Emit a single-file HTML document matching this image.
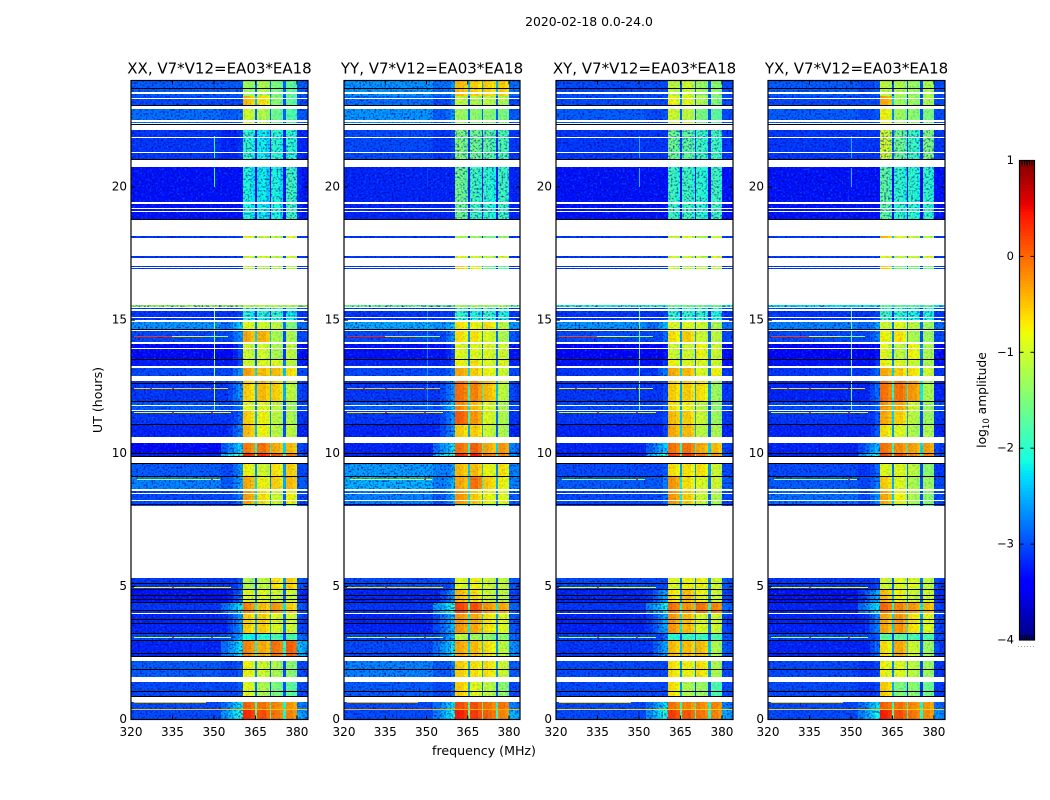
<!DOCTYPE html>
<html lang="en">
<head>
<meta charset="utf-8">
<title>2020-02-18 dynamic spectra</title>
<style>
html,body{margin:0;padding:0;background:#fff;}
svg{display:block;}
text{font-family:"DejaVu Sans","Liberation Sans",sans-serif;fill:#000;}
</style>
</head>
<body>
<svg id="figure" xmlns="http://www.w3.org/2000/svg" width="1050" height="800" viewBox="0 0 1050 800">
<defs>
<filter id="speckle-light" x="0" y="0" width="100%" height="100%" color-interpolation-filters="sRGB">
<feTurbulence type="fractalNoise" baseFrequency="0.48" numOctaves="1" seed="4"/>
<feColorMatrix type="matrix" values="0 0 0 0 0  0 0 0 0 0.42  0 0 0 0 1  2.6 0 0 0 -1.35"/>
</filter>
<filter id="speckle-dark" x="0" y="0" width="100%" height="100%" color-interpolation-filters="sRGB">
<feTurbulence type="fractalNoise" baseFrequency="0.52" numOctaves="1" seed="11"/>
<feColorMatrix type="matrix" values="0 0 0 0 0  0 0 0 0 0  0 0 0 0 0.6  2.6 0 0 0 -1.25"/>
</filter>
</defs>
<text x="589" y="26" font-size="12.4" text-anchor="middle">2020-02-18 0.0-24.0</text>
<text x="484" y="755" font-size="12.6" text-anchor="middle">frequency (MHz)</text>
<text x="102" y="400" font-size="12.6" text-anchor="middle" transform="rotate(-90 102 400)">UT (hours)</text>
<text x="986" y="400" font-size="12.3" text-anchor="middle" transform="rotate(-90 986 400)">log<tspan font-size="8.5" dy="3">10</tspan><tspan dy="-3"> amplitude</tspan></text>
</svg>
<script>
// ---- Data -----------------------------------------------------------------------
const panelTitles = ["XX, V7*V12=EA03*EA18","YY, V7*V12=EA03*EA18","XY, V7*V12=EA03*EA18","YX, V7*V12=EA03*EA18"];
const freqTicks = [320,335,350,365,380];
const utTicks = [0,5,10,15,20];
const colorTicks = [1,0,-1,-2,-3,-4];
const colorTickLabels = ["1","0","\u22121","\u22122","\u22123","\u22124"];

// Frequency channel edges (MHz)
const channelEdges = [320,335,350,352.5,355,357,358.8,360.5,362,363.5,365,365.7,367.2,368.7,370.2,370.7,372.2,373.7,375.1,375.9,377.3,378.7,380,382,384];
// Which column of a row table feeds each channel: 0 background, 1 band skirt, 2-5 sub-bands, 6 upper tail
const channelColumn = [0,0,0,1,1,1,1,2,2,2,2,3,3,3,3,4,4,4,4,5,5,5,6,6];
// Bandpass shape of each channel in dex
const channelShape = [0,0,0,-0.6,-0.4,-0.2,0,0.06,0.02,-0.1,-1.9,0.02,0.06,-0.1,-1.9,0.06,0,-0.12,-1.9,0.04,0.05,-0.06,0,-0.08];

// Top of each time row (UT hours); the last row ends at 0
const rowTops = [24,23.4,23,22.32,20.75,18.17,17.42,17.04,15.56,15.51,14.93,14.63,14.14,13.55,13.24,12.71,11.96,11.59,11.1,10.38,10.01,9.64,9.14,8.62,8.09,5.31,4.9,4.41,4,3.25,2.98,2.2,1.41,0.66,0.39];

// log10 amplitude per row: background, skirt, sub-band 1-4, tail
const xxRows = [
[-2.9,-2.9,-1.3,-1.2,-1.5,-1.7,-2.9],[-3,-3,-0.5,-0.7,-1.4,-1.7,-3],[-2.8,-2.8,-1,-1.2,-1.6,-1.8,-2.9],[-3.1,-3.1,-2,-2.2,-2,-2,-3.2],[-3.3,-3.3,-2.1,-2.2,-2.1,-1.9,-3.2],
[-3.1,-3.1,-0.9,-1,-1.1,-0.9,-3.1],[-3.1,-3.1,-1,-1,-1.1,-1,-3.1],[-3.1,-3.1,-1.1,-1.2,-1.2,-1.2,-3.1],[-1.3,-1.3,-1.2,-1.2,-1.2,-1.2,-1.3],[-3.1,-3,-2.1,-2.1,-2,-2.2,-3.1],
[-2.6,-2.3,-0.9,-1,-1.1,-1.5,-2.8],[-3,-2.6,-0.4,-0.45,-1.2,-1.2,-3],[-3.35,-3,-1,-1,-1.2,-1.1,-3.3],[-3.25,-3,-1,-0.9,-0.9,-1.1,-3.2],[-3,-2.6,-0.35,-0.5,-0.5,-0.7,-3],
[-3.1,-2.6,-0.6,-0.5,-0.6,-1.1,-3],[-2.9,-2.7,-0.9,-0.9,-1.1,-1.3,-3],[-3.1,-2.8,-0.6,-0.8,-1.1,-1.2,-3.1],[-3.2,-2.7,-0.5,-0.8,-1.1,-1.1,-3.2],[-3.35,-2.3,-0.15,-0.1,-0.4,-0.5,-3],
[-3.2,-1.7,0.3,0.3,0.1,-0.1,-2.9],[-2.9,-2.6,-0.8,-1,-0.7,-0.6,-3],[-2.7,-2.5,-0.4,-0.8,-0.6,-0.5,-2.9],[-3,-2.7,-0.35,-0.7,-1,-0.8,-3],[-2.9,-2.9,-1.5,-1.5,-1.6,-1.6,-3],
[-3.1,-2.9,-1.2,-1.1,-0.7,-0.6,-2.9],[-3.3,-2.8,-0.9,-0.9,-1,-1,-3.1],[-3.1,-2.2,-0.2,-0.5,-0.3,-0.6,-2.9],[-3.2,-2.6,-0.6,-0.6,-0.9,-1,-3],[-3,-2.5,-2.1,-2,-1.8,-1.8,-2.8],
[-3.2,-2.2,-0.2,-0.4,-0.1,0,-2.4],[-2.9,-2.9,-0.8,-1,-1.2,-1.4,-3],[-3,-2.9,-0.9,-1.2,-1.5,-1.7,-3],[-3,-2.2,0,-0.1,-0.2,-0.3,-2.7],[-3,-2,0.3,0.1,-0.1,-0.2,-2.5]];
const yyRows = [
[-2.6,-2.6,-0.5,-0.6,-0.6,-0.6,-2.8],[-2.8,-2.8,-1.1,-1.2,-1.1,-1.2,-3],[-2.6,-2.6,-1.3,-1.4,-1.4,-1.5,-2.9],[-3,-3,-1.5,-1.6,-1.7,-1.8,-3.1],[-3.2,-3.2,-1.6,-1.9,-2,-1.9,-3.2],
[-3.1,-3.1,-1.2,-1.3,-1.5,-1.3,-3.1],[-3.1,-3.1,-0.9,-1,-1.1,-0.9,-3.1],[-3.1,-3.1,-0.6,-0.8,-1.6,-1.7,-3.1],[-1.6,-1.6,-1.3,-1.3,-1.3,-1.3,-1.6],[-3.1,-3,-2,-2.1,-2,-2.1,-3.1],
[-2.5,-2.3,-0.7,-0.8,-0.7,-1.1,-2.6],[-3,-2.6,-0.7,-0.7,-0.9,-1.2,-2.9],[-3.3,-3,-0.9,-0.9,-0.9,-1,-3.3],[-3.2,-3,-0.8,-0.7,-0.9,-0.9,-3.2],[-3,-2.7,-0.4,-0.6,-0.8,-1,-3],
[-3.1,-2.6,-0.1,-0.2,-0.5,-1.1,-3],[-2.9,-2.4,-0.25,-0.5,-0.9,-1.2,-3],[-3.1,-2.6,0,-0.3,-0.9,-1.2,-3.1],[-3.2,-2.6,-0.6,-0.6,-1,-1.2,-3.2],[-3.2,-2.2,-0.1,0,-0.4,-0.3,-2.7],
[-3.2,-1.8,0.3,0.4,-0.1,-0.2,-2.6],[-2.55,-2.5,-0.5,-0.5,-0.8,-0.7,-2.7],[-2.45,-2.4,-0.4,-0.1,-0.6,-0.8,-2.7],[-2.7,-2.5,-0.3,-0.6,-0.8,-0.9,-2.9],[-3.1,-3,-1.5,-1.5,-1.6,-1.6,-3],
[-3,-2.9,-0.9,-0.8,-1,-1.1,-2.9],[-3.2,-2.6,-0.5,-0.7,-1,-1.1,-3],[-3.1,-2,0.15,0.1,-0.3,-0.4,-2.8],[-3.2,-2.4,-0.3,-0.4,-0.7,-0.9,-2.9],[-3,-2.4,-1.1,-1.3,-1.4,-1.4,-2.8],
[-3,-2.2,-0.4,-0.5,-0.7,-1.1,-2.6],[-2.7,-2.7,-0.6,-0.7,-0.7,-1,-2.9],[-2.9,-2.8,-0.6,-0.9,-1.1,-1.4,-3],[-3,-2.2,0.1,0.1,-0.1,-0.1,-2.7],[-3,-2.1,0.35,0.2,0,-0.2,-2.4]];
const xyRows = [
[-3,-3,-1.1,-1,-1.3,-1.4,-3],[-3,-3,-0.8,-0.9,-1.2,-1.5,-3],[-2.9,-2.9,-1,-1.1,-1.5,-1.7,-3],[-3.1,-3.1,-1.6,-1.7,-1.9,-1.9,-3.1],[-3.3,-3.3,-1.9,-1.9,-2,-1.9,-3.3],
[-3.1,-3.1,-1,-0.9,-1.2,-1,-3.1],[-3.1,-3.1,-1,-1,-1.1,-0.9,-3.1],[-3.1,-3.1,-1,-1.1,-1.1,-1.1,-3.1],[-2,-2,-1.6,-1.6,-1.6,-1.6,-2],[-3.1,-3,-2,-2,-2,-2.1,-3.1],
[-2.6,-2.4,-0.9,-0.9,-1,-1.2,-2.8],[-3,-2.8,-0.7,-0.6,-1,-1.1,-3],[-3.4,-3.3,-1,-1,-0.8,-1,-3.3],[-3.3,-3.1,-0.8,-0.9,-0.9,-1,-3.3],[-3.1,-2.7,-0.4,-0.5,-0.9,-0.8,-3.1],
[-3.1,-3,-0.6,-0.6,-0.7,-1.3,-3.1],[-3,-2.9,-0.7,-0.8,-1.1,-1.4,-3],[-3.1,-3,-0.5,-0.6,-1,-1.3,-3.1],[-3.2,-3,-0.4,-0.5,-1.1,-1.2,-3.2],[-3.2,-2.3,-0.1,-0.1,-0.4,-0.5,-3],
[-3.2,-1.9,0.2,0.25,-0.1,-0.3,-2.9],[-3,-2.9,-0.7,-0.7,-0.7,-1,-3],[-2.9,-2.7,-0.3,-0.7,-0.9,-1,-2.9],[-3,-2.8,-0.3,-0.6,-1,-1.2,-3],[-3,-3,-1.5,-1.5,-1.6,-1.6,-3],
[-3,-3,-0.9,-0.8,-0.8,-1,-2.9],[-3.2,-2.5,-0.7,-0.5,-0.8,-1,-3],[-3.1,-2.1,-0.1,-0.3,-0.1,-0.2,-2.8],[-3.2,-2.5,-0.3,-0.5,-0.9,-1,-3],[-3,-2.8,-2,-1.9,-1.9,-1.8,-2.9],
[-3.1,-2.5,-0.5,-0.5,-0.5,-1.2,-2.9],[-3,-3,-0.7,-0.8,-0.7,-1.2,-3],[-3,-3,-0.7,-1.2,-1.3,-1.8,-3],[-3,-2.2,-0.1,-0.2,-0.2,-0.2,-2.7],[-3,-2,0.2,0.05,-0.1,-0.2,-2.5]];
const yxRows = [
[-2.9,-2.9,-1.1,-1.2,-1.3,-1.2,-3],[-3,-3,-0.4,-1.3,-1.3,-1.2,-3],[-2.9,-2.9,-0.8,-1.3,-1.4,-1.5,-3],[-3.1,-3.1,-1,-1.6,-1.9,-1.5,-3.1],[-3.3,-3.3,-1.7,-2,-2,-2,-3.3],
[-3.1,-3.1,-0.5,-0.9,-1,-1.1,-3.1],[-3.1,-3.1,-0.9,-1.1,-1,-0.9,-3.1],[-3.1,-3.1,-0.6,-1.5,-1.5,-1.5,-3.1],[-2.2,-2.2,-1.7,-1.7,-1.7,-1.7,-2.2],[-3.1,-3,-1.9,-2,-2.1,-2.1,-3.1],
[-2.7,-2.5,-1,-0.9,-1.1,-1.3,-2.8],[-3,-2.7,-0.8,-0.7,-1.2,-1.3,-3],[-3.4,-3.3,-0.9,-1.1,-0.8,-1.2,-3.3],[-3.3,-3.1,-0.8,-0.9,-1,-1.2,-3.3],[-3.1,-2.8,-0.4,-0.6,-0.7,-1,-3.1],
[-3.2,-2.8,-0.1,-0.1,-0.3,-1.2,-3.2],[-3,-2.8,-0.3,-0.4,-1,-1.3,-3],[-3.1,-2.9,-0.4,-0.6,-1.1,-1.3,-3.1],[-3.2,-2.9,-0.7,-0.9,-1.2,-1.2,-3.2],[-3.2,-2.4,-0.1,-0.25,-0.35,-0.35,-3],
[-3.2,-2,0.15,0.1,-0.2,-0.2,-2.9],[-3,-2.8,-0.9,-0.9,-1.1,-1.4,-3.1],[-2.9,-2.7,-0.6,-0.9,-1.2,-1.3,-3],[-2.8,-2.6,-0.4,-0.8,-1.2,-1.4,-3],[-3.1,-3,-1.6,-1.6,-1.7,-1.8,-3],
[-3.1,-3,-1,-0.9,-0.9,-1.1,-3],[-3.3,-2.5,-0.5,-0.8,-1,-1,-3.1],[-3.2,-2.2,-0.05,-0.2,-0.3,-0.5,-3],[-3.2,-2.7,-0.4,-0.3,-0.7,-0.9,-3],[-3,-2.9,-1.7,-1.7,-1.8,-1.8,-3],
[-3.2,-2.8,-0.7,-0.4,-1,-1.3,-3],[-3,-3,-0.8,-0.9,-1.1,-1.3,-3.1],[-3,-3,-0.6,-1.5,-1.4,-1.6,-3.1],[-3,-2.2,0,-0.1,-0.2,-0.3,-2.8],[-3,-2.1,0.35,0.1,-0.1,-0.25,-2.6]];
const panelRows = [xxRows,yyRows,xyRows,yxRows];

// Narrowband interference: UT, start MHz, end MHz, log10 amplitude
const rfiStartUT = [14.42,14.42,14.42,12.45,11.55,9.03,4.99,3.11,0.64,0.38];
const rfiStartMHz = [321,335,346,321,321,322,321,321,321,320];
const rfiEndMHz = [335,346,355,355,356,352,356,356,347,384];
const rfiLevel = [0.3,-0.7,-1.3,-0.6,-0.8,-1.1,-0.7,-1,-0.5,-0.5];
const rfiPanelGain = [0,0.1,-0.1,-0.05];
// Isolated hot spots on those lines: UT, MHz
const hotUT = [12.45,12.45,12.45,11.55,11.55,9.03,3.11,3.11,4.99];
const hotMHz = [335,327,349,335,349,349,335,349,335];

// Persistent 350 MHz line: top UT, bottom UT, log10 amplitude
const lineTopUT = [21.9,20.72,15.5];
const lineBottomUT = [21.1,20,11.6];
const lineLevel = [-2,-1.9,-1.2];
const linePanelGain = [0,-1,-0.5,-0.5];

// Time ranges where the band itself looks noisy (cyan, patchy), UT hours
const patchyBandTop = [22.32,15.51];
const patchyBandBottom = [18.79,14.93];

// Flagged (blank) time ranges in UT hours
const flagTop = [23.55,23.36,23.05,22.5,22.42,22.32,21.89,21.33,21.07,19.42,19.23,19.11,18.79,18.1,17.34,16.98,16.92,15.51,15.4,15.13,15,14.65,14.16,13.97,13.26,12.9,11.8,11.61,10.61,9.9,8.64,8.52,8.26,8.02,4.01,2.35,1.6,0.85];
const flagBottom = [23.51,23.32,22.93,22.46,22.38,22.14,21.85,21.29,20.75,19.38,19.19,19.07,18.17,17.42,17.04,16.95,15.56,15.46,15.36,15.09,14.93,14.6,14.12,13.93,13.22,12.71,11.76,11.57,10.38,9.64,8.6,8.48,8.22,5.31,3.97,2.2,1.41,0.66];
// Zero-amplitude dropouts drawn black, UT hours
const dropouts = [23.73,23.07,22.36,21.05,18.81,14.66,13.55,12.65,11.96,11.1,10.01,9.9,9.64,9.14,8.09,5.13,4.9,4.67,4.52,4.41,4.11,3.77,3.62,3.25,2.98,2.5,2.38,1.9,1.07,0.88];

// ---- Layout and scales ----------------------------------------------------------
const svgNS = "http://www.w3.org/2000/svg";
const fig = document.getElementById("figure");
const panelLeft = [131,344,556,768];
const panelWidth = [177,176,177,177];
const plotTop = 80.5, plotBottom = 719.5;
const UT_MAX = 24, F_MIN = 320, F_MAX = 384;
function yOf(ut){return plotBottom-(ut/UT_MAX)*(plotBottom-plotTop);}
function xOf(f,p){return panelLeft[p]+(f-F_MIN)/(F_MAX-F_MIN)*panelWidth[p];}
function ySnap(ut){return Math.round(yOf(ut));}
function xSnap(f,p){return Math.round(xOf(f,p));}
function lerpNodes(nodes,t){
  for(let i=1;i<nodes.length;i++){
    if(t<=nodes[i][0]){const a=nodes[i-1],b=nodes[i];return a[1]+(b[1]-a[1])*(t-a[0])/(b[0]-a[0]);}
  }
  return nodes[nodes.length-1][1];
}
const jetR=[[0,0],[0.35,0],[0.66,1],[0.89,1],[1,0.5]];
const jetG=[[0,0],[0.125,0],[0.375,1],[0.64,1],[0.91,0],[1,0]];
const jetB=[[0,0.5],[0.11,1],[0.34,1],[0.65,0],[1,0]];
function colorOf(v){
  const t=Math.max(0,Math.min(1,(v+4)/5));
  return "rgb("+Math.round(255*lerpNodes(jetR,t))+","+Math.round(255*lerpNodes(jetG,t))+","+Math.round(255*lerpNodes(jetB,t))+")";
}
function make(tag,parent,attrs){
  const n=document.createElementNS(svgNS,tag);
  for(const k in attrs){n.setAttribute(k,attrs[k]);}
  parent.appendChild(n);
  return n;
}

// ---- Panels ---------------------------------------------------------------------
panelRows.forEach(function(rows,p){
  const L=panelLeft[p], W=panelWidth[p], H=plotBottom-plotTop;
  const panel=make("g",fig,{});
  
  

  const heat=make("g",panel,{"shape-rendering":"crispEdges"});
  
  

  rows.forEach(function(row,r){
    const top=rowTops[r], bottom=r+1<rowTops.length?rowTops[r+1]:0;
    for(let c=0;c<channelColumn.length;c++){
      const col=channelColumn[c];
      let v=row[col]+channelShape[c];
      v=Math.max(v,col===0?row[0]:Math.min(row[0],row[6]));
      const x0=xSnap(channelEdges[c],p), x1=xSnap(channelEdges[c+1],p);
      const cell=make("rect",heat,{x:x0,y:ySnap(top),width:x1-x0,height:ySnap(bottom)-ySnap(top),fill:colorOf(v)});
      
      
    }
  });

  // Grain: full strength over the quiet background, faint over the bright band
  const bandL=xSnap(360.5,p), bandR=xSnap(380,p), topPx=Math.round(plotTop), hPx=Math.round(H);
  const grainX=[L,bandL,bandR];
  const grainW=[bandL-L,bandR-bandL,L+W-bandR];
  const grainOpacity=[1,0.22,1];
  grainX.forEach(function(gx,g){
    const light=make("rect",heat,{x:gx,y:topPx,width:grainW[g],height:hPx,filter:"url(#speckle-light)",opacity:grainOpacity[g]});
    
    
    const dark=make("rect",heat,{x:gx,y:topPx,width:grainW[g],height:hPx,filter:"url(#speckle-dark)",opacity:grainOpacity[g]});
    
    
  });
  patchyBandTop.forEach(function(ut,i){
    const y0=ySnap(ut), y1=ySnap(patchyBandBottom[i]);
    const patch=make("rect",heat,{x:bandL,y:y0,width:bandR-bandL,height:y1-y0,filter:"url(#speckle-dark)",opacity:0.8});
    
    
  });

  rfiStartUT.forEach(function(ut,i){
    const x0=xSnap(rfiStartMHz[i],p), x1=xSnap(rfiEndMHz[i],p);
    const line=make("rect",heat,{x:x0,y:ySnap(ut),width:x1-x0,height:1,fill:colorOf(rfiLevel[i]+rfiPanelGain[p])});
    
    
  });
  hotUT.forEach(function(ut,i){
    const spot=make("rect",heat,{x:xSnap(hotMHz[i],p),y:ySnap(ut),width:2,height:1,fill:colorOf(0.4)});
    
    
  });
  lineTopUT.forEach(function(ut,i){
    const vline=make("rect",heat,{x:xSnap(350,p),y:ySnap(ut),width:1,height:ySnap(lineBottomUT[i])-ySnap(ut),fill:colorOf(lineLevel[i]+linePanelGain[p]),opacity:p===1?0.5:1});
    
    
  });

  flagTop.forEach(function(ut,i){
    const y0=ySnap(ut), y1=Math.max(y0+1,ySnap(flagBottom[i]));
    const flag=make("rect",heat,{x:L,y:y0,width:W,height:y1-y0,fill:"#fff"});
    
    
  });
  dropouts.forEach(function(ut){
    const drop=make("rect",heat,{x:L,y:ySnap(ut),width:W,height:1,fill:"#000"});
    
    
  });

  const frame=make("rect",panel,{x:L,y:plotTop,width:W,height:H,fill:"none",stroke:"#000","stroke-width":1.2});
  
  

  const title=make("text",panel,{x:L+W/2,y:plotTop-7,"font-size":15,"text-anchor":"middle"});
  title.textContent=panelTitles[p];
  
  

  freqTicks.forEach(function(f){
    const x=xOf(f,p);
    const t1=make("line",panel,{x1:x,x2:x,y1:plotBottom,y2:plotBottom-4,stroke:"#000"});
    
    
    const t2=make("line",panel,{x1:x,x2:x,y1:plotTop,y2:plotTop+4,stroke:"#000"});
    
    
    const lab=make("text",panel,{x:x,y:736,"font-size":12,"text-anchor":"middle"});
    lab.textContent=String(f);
    
    
  });
  utTicks.forEach(function(u){
    const y=yOf(u);
    const t1=make("line",panel,{x1:L,x2:L+4,y1:y,y2:y,stroke:"#000"});
    
    
    const t2=make("line",panel,{x1:L+W,x2:L+W-4,y1:y,y2:y,stroke:"#000"});
    
    
    const lab=make("text",panel,{x:L-4,y:y+3.5,"font-size":12,"text-anchor":"end"});
    lab.textContent=String(u);
    
    
  });
});

// ---- Colorbar -------------------------------------------------------------------
const cbLeft=1019.5, cbWidth=15, cbTop=160.5, cbBottom=640;
function cbY(v){return cbBottom-(v+4)/5*(cbBottom-cbTop);}
const cb=make("g",fig,{});


const cbFill=make("g",cb,{"shape-rendering":"crispEdges"});


for(let i=0;i<160;i++){
  const v0=-4+5*i/160, v1=-4+5*(i+1)/160;
  const step=make("rect",cbFill,{x:cbLeft,y:cbY(v1),width:cbWidth,height:cbY(v0)-cbY(v1)+0.6,fill:colorOf((v0+v1)/2)});
  
  
}
const cbFrame=make("rect",cb,{x:cbLeft,y:cbTop,width:cbWidth,height:cbBottom-cbTop,fill:"none",stroke:"#000","stroke-width":1.2});


colorTicks.forEach(function(v,i){
  const y=cbY(v);
  const a=make("line",cb,{x1:cbLeft,x2:cbLeft+4,y1:y,y2:y,stroke:"#000"});
  
  
  const b=make("line",cb,{x1:cbLeft+cbWidth,x2:cbLeft+cbWidth-4,y1:y,y2:y,stroke:"#000"});
  
  
  const lab=make("text",cb,{x:cbLeft-5.5,y:y+3.5,"font-size":11.5,"text-anchor":"end"});
  lab.textContent=colorTickLabels[i];
  
  
});
[1,2,3,4,5].forEach(function(k){
  const x=cbLeft+k*2.5;
  const up=make("line",cb,{x1:x,x2:x,y1:cbTop,y2:cbTop+5,stroke:"#000"});
  
  
  const down=make("line",cb,{x1:x,x2:x,y1:cbBottom,y2:cbBottom-5,stroke:"#000"});
  
  
});
const dots=make("line",cb,{x1:1018,x2:1035,y1:646.5,y2:646.5,stroke:"#999","stroke-dasharray":"1 2"});


</script>
</body>
</html>
